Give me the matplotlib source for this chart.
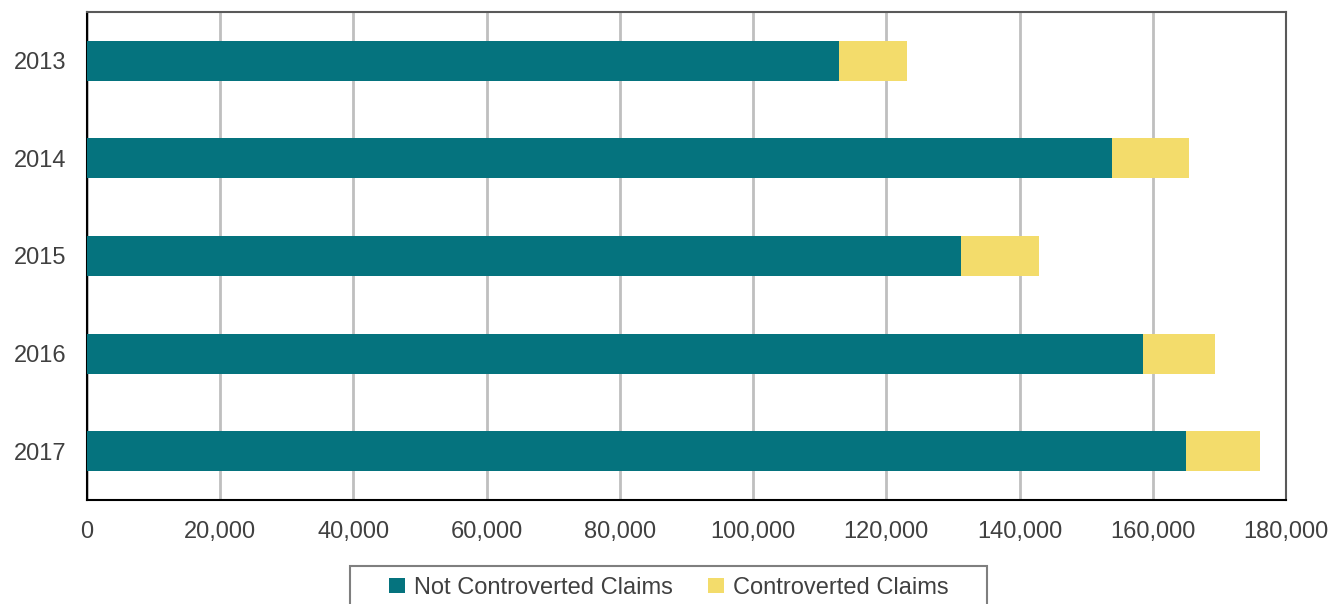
import numpy as np
import matplotlib.pyplot as plt
from matplotlib.patches import Rectangle
from matplotlib.ticker import FuncFormatter

plt.rcParams['font.family'] = ['Liberation Sans', 'DejaVu Sans']

years = ["2013", "2014", "2015", "2016", "2017"]
not_controverted = [112900, 153900, 131250, 158500, 165000]
controverted = [10200, 11550, 11600, 10900, 11100]

teal = "#05737E"
yellow = "#F3DC6B"
text_col = "#404040"

W, H = 1331, 604
fig = plt.figure(figsize=(W / 100, H / 100), dpi=100)
ax = fig.add_axes([87 / W, 1 - 500 / H, (1286 - 87) / W, (500 - 12) / H])

y = np.arange(len(years))
ax.barh(y, not_controverted, height=0.41, color=teal, label="Not Controverted Claims", zorder=3)
ax.barh(y, controverted, left=not_controverted, height=0.41, color=yellow,
        label="Controverted Claims", zorder=3)

ax.set_ylim(len(years) - 0.5, -0.5)
ax.set_yticks(y)
ax.set_yticklabels(years)
ax.set_xlim(0, 180000)
ax.set_xticks(np.arange(0, 180001, 20000))
ax.xaxis.set_major_formatter(FuncFormatter(lambda v, p: f"{int(v):,}"))

ax.grid(axis="x", color="#BFBFBF", linewidth=2, zorder=0)
ax.tick_params(axis="both", length=0, labelsize=17, labelcolor=text_col)
ax.tick_params(axis="y", pad=15)
ax.tick_params(axis="x", pad=15)

for side in ["top", "right"]:
    ax.spines[side].set_color("#595959")
    ax.spines[side].set_linewidth(1.5)
for side in ["left", "bottom"]:
    ax.spines[side].set_color("black")
    ax.spines[side].set_linewidth(1.5)

# legend box drawn separately so its side padding can be wider than the top;
# it runs past the bottom edge of the figure
fig.patches.append(Rectangle((350 / W, -0.05), (987 - 350) / W, 1 - 566 / H + 0.05,
                             transform=fig.transFigure, fill=False,
                             edgecolor="#7F7F7F", linewidth=1.5))
leg = fig.legend(loc="upper center", bbox_to_anchor=(668.5 / W, 1 - 577 / H), ncol=2,
                 frameon=False, fontsize=17, handlelength=0.68,
                 handleheight=0.6, handletextpad=0.38, columnspacing=1.5,
                 borderpad=0, borderaxespad=0)
for t in leg.get_texts():
    t.set_color(text_col)

fig.savefig("out.png", dpi=100)
